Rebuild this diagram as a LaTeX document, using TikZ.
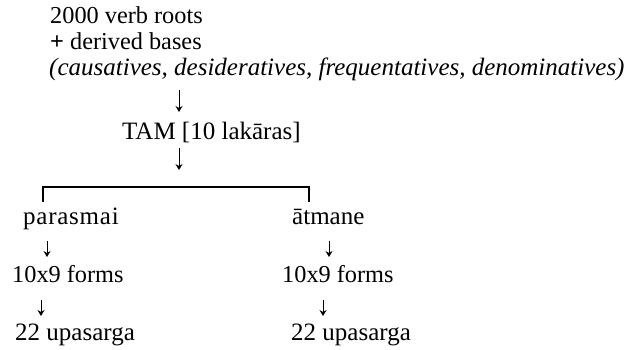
\documentclass[tikz,border=0pt]{standalone}
\usepackage{fontspec}
\setmainfont{Liberation Serif}
\usetikzlibrary{arrows.meta}
\begin{document}
\begin{tikzpicture}[x=1pt,y=-1pt,
  txt/.style={anchor=base west,inner sep=0pt,font=\fontsize{24.3}{25}\selectfont},
  big/.style={font=\fontsize{25}{26}\selectfont},
  darr/.style={line width=0.9pt,-{Stealth[length=6pt,width=7pt,inset=2pt]}},
  brk/.style={line width=1.4pt}]
\useasboundingbox (0,0) rectangle (631,349);
\node[txt] (roots) at (50,23) {2000 verb roots};
\node[txt] (derived) at (50,49) {\textbf{+} derived bases};
\node[txt,big] (kinds) at (49,75) {\textit{(causatives, desideratives, frequentatives, denominatives)}};
\coordinate (a1t) at (179,90);  \coordinate (a1b) at (179,112);
\draw[darr] (a1t) -- (a1b);
\node[txt,big] (tam) at (122,139) {TAM [10 lakāras]};
\coordinate (a2t) at (179,148); \coordinate (a2b) at (179,170);
\draw[darr] (a2t) -- (a2b);
\coordinate (bl) at (43,202);
\coordinate (br) at (309,202);
\draw[brk] (bl) -- (bl |- 0,187) -- (br |- 0,187) -- (br);
\node[txt,font=\fontsize{25}{26}\selectfont\addfontfeature{LetterSpace=3}] (par) at (23,224) {parasmai};
\node[txt,big] (atm) at (292,224) {ātmane};
\coordinate (a3t) at (47,241); \coordinate (a3b) at (47,257);
\draw[darr] (a3t) -- (a3b);
\coordinate (a4t) at (329,241); \coordinate (a4b) at (329,257);
\draw[darr] (a4t) -- (a4b);
\node[txt] (f1) at (12,282) {10x9 forms};
\node[txt] (f2) at (282,282) {10x9 forms};
\coordinate (a5t) at (41,300); \coordinate (a5b) at (41,316);
\draw[darr] (a5t) -- (a5b);
\coordinate (a6t) at (323,300); \coordinate (a6b) at (323,316);
\draw[darr] (a6t) -- (a6b);
\node[txt,big] (u1) at (15,340) {22 upasarga};
\node[txt,big] (u2) at (291,340) {22 upasarga};
\end{tikzpicture}
\end{document}
